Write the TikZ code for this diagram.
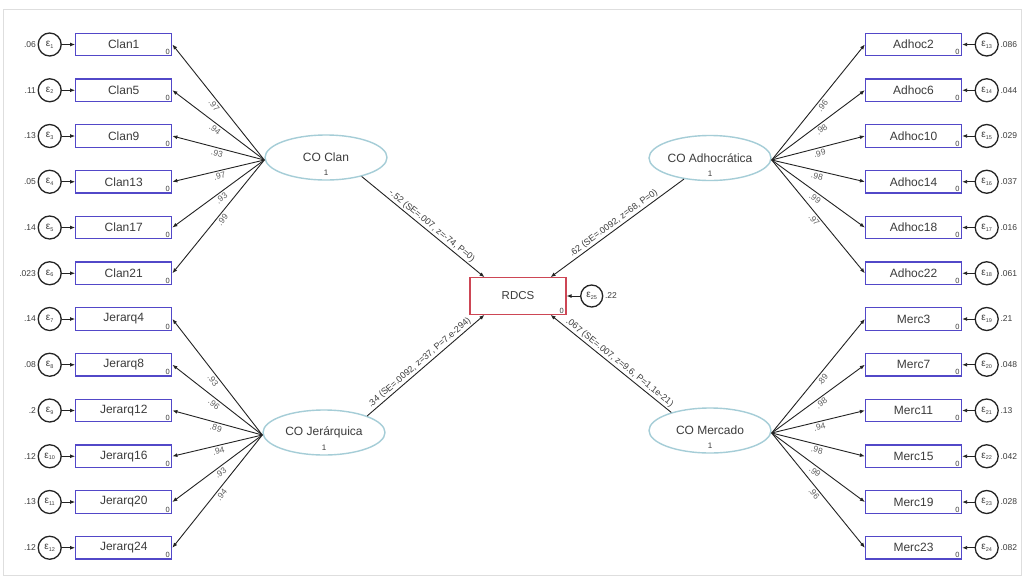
\documentclass[tikz,border=0pt]{standalone}
\usepackage{fontspec}
\setmainfont{Liberation Sans}
\usetikzlibrary{shapes.geometric,arrows.meta}

\definecolor{boxblue}{RGB}{82,72,200}
\definecolor{latblue}{RGB}{165,205,215}
\definecolor{rdred}{RGB}{205,70,85}
\definecolor{txtgray}{RGB}{60,60,60}
\definecolor{ldgray}{RGB}{95,95,95}
\definecolor{lineclr}{RGB}{35,35,35}
\definecolor{framegray}{RGB}{222,222,222}

% epsilon with a small lowered index
\newcommand\epsnode[1]{ε\raisebox{-1.8pt}{\fontsize{5.5}{5.5}\selectfont #1}}

\tikzset{
  obs/.style={draw=boxblue, line width=1.3pt, minimum width=96pt, minimum height=22.5pt,
    inner sep=0pt, text=txtgray, font=\fontsize{12}{12}\selectfont},
  lat/.style={ellipse, draw=latblue, line width=1.4pt, minimum width=122pt,
    minimum height=45pt, inner sep=0pt, text=txtgray, font=\fontsize{12}{12}\selectfont},
  latone/.style={text=txtgray, inner sep=0pt, font=\fontsize{8}{8}\selectfont},
  err/.style={circle, draw=lineclr, line width=1.3pt, minimum size=23pt, inner sep=0pt,
    text=txtgray, font=\fontsize{10}{10}\selectfont},
  zero/.style={anchor=south east, inner xsep=2.5pt, inner ysep=1.5pt, text=txtgray,
    font=\fontsize{7.5}{7.5}\selectfont},
  varl/.style={inner sep=1.5pt, text=txtgray, font=\fontsize{8.5}{8.5}\selectfont},
  arr/.style={draw=lineclr, line width=0.9pt, -{Latex[length=5pt,width=4pt]}},
  ldl/.style={pos=0.5, sloped, below, inner sep=2pt, text=ldgray, font=\fontsize{8.5}{8.5}\selectfont},
  pathl/.style={sloped, above, inner sep=1.5pt, text=txtgray, font=\fontsize{9}{9}\selectfont}
}

\begin{document}
\begin{tikzpicture}[x=1pt,y=-1pt]
\useasboundingbox (0,0) rectangle (1024,576);
\fill[white] (0,0) rectangle (1024,576);
\draw[framegray, line width=1pt] (3,9) rectangle (1021,575);

% latent variables
\node[lat] (clan) at (326,157.5) {CO Clan};
\node[latone] (clan1) at (326,173) {1};
\node[lat] (jer) at (324,432.5) {CO Jerárquica};
\node[latone] (jer1) at (324,448) {1};
\node[lat] (adh) at (710,158) {CO Adhocrática};
\node[latone] (adh1) at (710,173.5) {1};
\node[lat] (mer) at (710,430.5) {CO Mercado};
\node[latone] (mer1) at (710,446) {1};

\coordinate (cclan) at ([yshift=-2.5pt]clan.west);
\coordinate (cjer) at ([yshift=-2.5pt]jer.west);
\coordinate (cadh) at ([yshift=-2pt]adh.east);
\coordinate (cmer) at ([yshift=-2.5pt]mer.east);

% outcome
\node[draw=rdred, line width=1.2pt, minimum width=96pt, minimum height=36.5pt, inner sep=0pt,
  text=txtgray, font=\fontsize{11.5}{11.5}\selectfont] (rdcs) at (518,296) {RDCS};
\node[zero] (rdcs0) at (rdcs.south east) {0};
\node[err, minimum size=22pt] (e25) at (591.7,296) {\epsnode{25}};
\node[varl, anchor=west] (v25) at (e25.east) {.22};
\draw[arr] (e25) -- (rdcs);

% Clan indicators
\foreach \lab/\var/\ld [count=\i from 1] in
  {Clan1/.06/.97, Clan5/.11/.94, Clan9/.13/.93, Clan13/.05/.97, Clan17/.14/.93, Clan21/.023/.99}{
  \pgfmathsetmacro\yy{44.5+45.75*(\i-1)}
  \node[obs] (o\i) at (123.75,\yy) {\lab};
  \node[zero] (z\i) at (o\i.south east) {0};
  \node[err] (e\i) at (49.7,\yy) {\epsnode{\i}};
  \node[varl, anchor=east] (v\i) at (e\i.west) {\var};
  \draw[arr] (e\i) -- (o\i);
  \draw[arr] (cclan) -- node[ldl] (l\i) {\ld} (o\i.east);
}

% Jerarquica indicators
\foreach \lab/\var/\ld [count=\i from 7] in
  {Jerarq4/.14/.93, Jerarq8/.08/.96, Jerarq12/.2/.89, Jerarq16/.12/.94, Jerarq20/.13/.93, Jerarq24/.12/.94}{
  \pgfmathsetmacro\yy{44.5+45.75*(\i-1)}
  \node[obs] (o\i) at (123.75,\yy) {\lab};
  \node[zero] (z\i) at (o\i.south east) {0};
  \node[err] (e\i) at (49.7,\yy) {\epsnode{\i}};
  \node[varl, anchor=east] (v\i) at (e\i.west) {\var};
  \draw[arr] (e\i) -- (o\i);
  \draw[arr] (cjer) -- node[ldl] (l\i) {\ld} (o\i.east);
}

% Adhocratica indicators
\foreach \lab/\var/\ld [count=\i from 13] in
  {Adhoc2/.086/.96, Adhoc6/.044/.98, Adhoc10/.029/.99, Adhoc14/.037/.98, Adhoc18/.016/.99, Adhoc22/.061/.97}{
  \pgfmathsetmacro\yy{44.5+45.75*(\i-13)}
  \node[obs] (o\i) at (913.5,\yy) {\lab};
  \node[zero] (z\i) at (o\i.south east) {0};
  \node[err] (e\i) at (986.7,\yy) {\epsnode{\i}};
  \node[varl, anchor=west] (v\i) at (e\i.east) {\var};
  \draw[arr] (e\i) -- (o\i);
  \draw[arr] (cadh) -- node[ldl] (l\i) {\ld} (o\i.west);
}

% Mercado indicators
\foreach \lab/\var/\ld [count=\i from 19] in
  {Merc3/.21/.89, Merc7/.048/.98, Merc11/.13/.94, Merc15/.042/.98, Merc19/.028/.99, Merc23/.082/.96}{
  \pgfmathsetmacro\yy{44.5+45.75*(\i-13)}
  \node[obs] (o\i) at (913.5,\yy) {\lab};
  \node[zero] (z\i) at (o\i.south east) {0};
  \node[err] (e\i) at (986.7,\yy) {\epsnode{\i}};
  \node[varl, anchor=west] (v\i) at (e\i.east) {\var};
  \draw[arr] (e\i) -- (o\i);
  \draw[arr] (cmer) -- node[ldl] (l\i) {\ld} (o\i.west);
}

% structural paths
\draw[arr] (clan.-28) -- node[pathl, pos=0.54] (pclan) {-.52 (SE=.007, z=-74, P=0)}
  ([xshift=15pt]rdcs.north west);
\draw[arr] (adh.-141) -- node[pathl, pos=0.5] (padh) {.62 (SE=.0092, z=68, P=0)}
  ([xshift=-16pt]rdcs.north east);
\draw[arr] (jer.21) -- node[pathl, pos=0.48] (pjer) {.34 (SE=.0092, z=37, P=7.e-294)}
  ([xshift=15pt]rdcs.south west);
\draw[arr] (mer.155) -- node[pathl, pos=0.46] (pmer) {.067 (SE=.007, z=9.6, P=1.1e-21)}
  ([xshift=-16pt]rdcs.south east);
\end{tikzpicture}
\end{document}
